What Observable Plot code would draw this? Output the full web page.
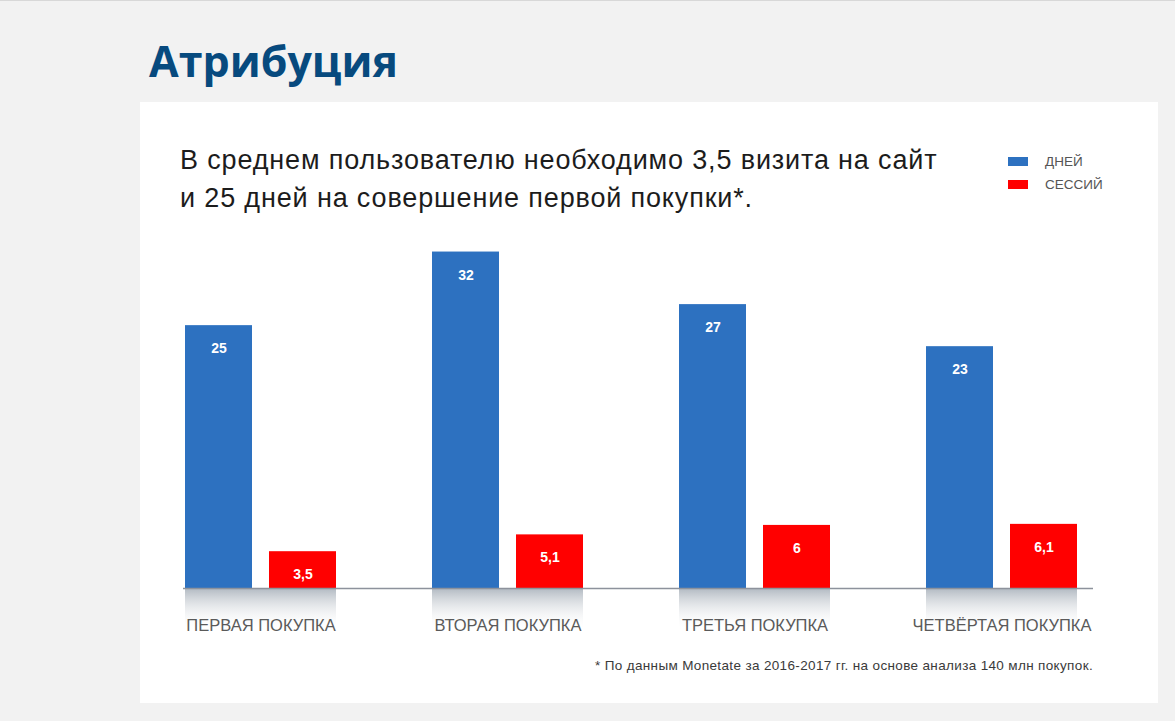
<!DOCTYPE html>
<html>
<head>
<meta charset="utf-8">
<script src="https://cdn.jsdelivr.net/npm/d3@7"></script>
<script src="https://cdn.jsdelivr.net/npm/@observablehq/plot@0.6"></script>
<style>
  html, body { margin: 0; padding: 0; }
  body { width: 1175px; height: 721px; position: relative; overflow: hidden;
         background: #f2f2f2; font-family: "Liberation Sans", Arial, sans-serif; }
  .topline { position: absolute; left: 0; top: 0; width: 1175px; height: 1px; background: #d8d8d8; }
  .panel { position: absolute; left: 140px; top: 102px; width: 1018px; height: 601px; background: #ffffff; }
  .title { position: absolute; left: 149px; top: 33px; font-family: "Open Sans", sans-serif; font-weight: 700;
           font-size: 43px; line-height: 56px; color: #074a7e; margin: 0; }
  .subtitle { position: absolute; left: 180px; top: 141px; font-size: 27px; letter-spacing: 0.85px;
              line-height: 38px; color: #1c1c1c; margin: 0; }
  .legend { position: absolute; left: 1008px; top: 150px; font-size: 13.5px; color: #555; }
  .legend div { display: flex; align-items: center; height: 23px; }
  .legend span.sw { display: inline-block; width: 20px; height: 9px; margin-right: 17px; }
  .foot { position: absolute; right: 82px; top: 658px; font-size: 13.5px; letter-spacing: 0.35px; color: #3a3a3a; }
  #chart { position: absolute; left: 0; top: 0; }
</style>
</head>
<body>
<div class="topline"></div>
<div class="panel"></div>
<h1 class="title">Атрибуция</h1>
<p class="subtitle">В среднем пользователю необходимо 3,5 визита на сайт<br>и 25 дней на совершение первой покупки*.</p>
<div class="legend" id="legend"></div>
<div id="chart"></div>
<div class="foot">* По данным Monetate за 2016-2017 гг. на основе анализа 140 млн покупок.</div>
<script>
const categories = ["ПЕРВАЯ ПОКУПКА", "ВТОРАЯ ПОКУПКА", "ТРЕТЬЯ ПОКУПКА", "ЧЕТВЁРТАЯ ПОКУПКА"];
const daysValues = [25, 32, 27, 23];
const sessionValues = [3.5, 5.1, 6, 6.1];
const seriesNames = ["ДНЕЙ", "СЕССИЙ"];
const seriesColors = ["#2d71c0", "#ff0000"];

const fmt = v => String(v).replace(".", ",");
const days = categories.map((c, i) => ({category: c, value: daysValues[i]}));
const sessions = categories.map((c, i) => ({category: c, value: sessionValues[i]}));

// legend
const legend = document.getElementById("legend");
seriesNames.forEach((name, i) => {
  const row = document.createElement("div");
  row.innerHTML = `<span class="sw" style="background:${seriesColors[i]}"></span>${name}`;
  legend.appendChild(row);
});

const half = 84; // inset of each bar within its category band
const chart = Plot.plot({
  width: 1175,
  height: 650,
  marginTop: 220,
  marginBottom: 62,
  marginLeft: 183,
  marginRight: 82,
  style: {background: "transparent", fontFamily: "'Liberation Sans', Arial, sans-serif"},
  x: {domain: categories, paddingInner: 0.39, paddingOuter: 0.03, align: 0.1, label: null},
  y: {domain: [0, 35], axis: null},
  marks: [
    Plot.barY(categories, {x: d => d, y1: 0, y2: 0, insetBottom: -42, fill: "url(#shade)"}),
    Plot.barY(days, {x: "category", y: "value", fill: seriesColors[0], insetRight: half}),
    Plot.barY(sessions, {x: "category", y: "value", fill: seriesColors[1], insetLeft: half}),
    Plot.text(days, {x: "category", y: "value", text: d => fmt(d.value), dx: -42, dy: 23,
      fill: "white", fontWeight: "bold", fontSize: 14}),
    Plot.text(sessions, {x: "category", y: "value", text: d => fmt(d.value), dx: 42, dy: 23,
      fill: "white", fontWeight: "bold", fontSize: 14}),
    Plot.ruleY([0], {stroke: "#8d929c", strokeWidth: 1.5}),
    Plot.axisX({tickSize: 0, tickPadding: 31, fontSize: 16.5, fill: "#5a5a5a", label: null})
  ]
});

const svg = d3.select(chart);
const defs = svg.insert("defs", ":first-child");
const grad = defs.append("linearGradient").attr("id", "shade")
  .attr("x1", 0).attr("y1", 0).attr("x2", 0).attr("y2", 1);
grad.append("stop").attr("offset", "0%").attr("stop-color", "#a3acb6").attr("stop-opacity", 0.85);
grad.append("stop").attr("offset", "100%").attr("stop-color", "#ffffff").attr("stop-opacity", 0);

document.getElementById("chart").appendChild(chart);
</script>
</body>
</html>
